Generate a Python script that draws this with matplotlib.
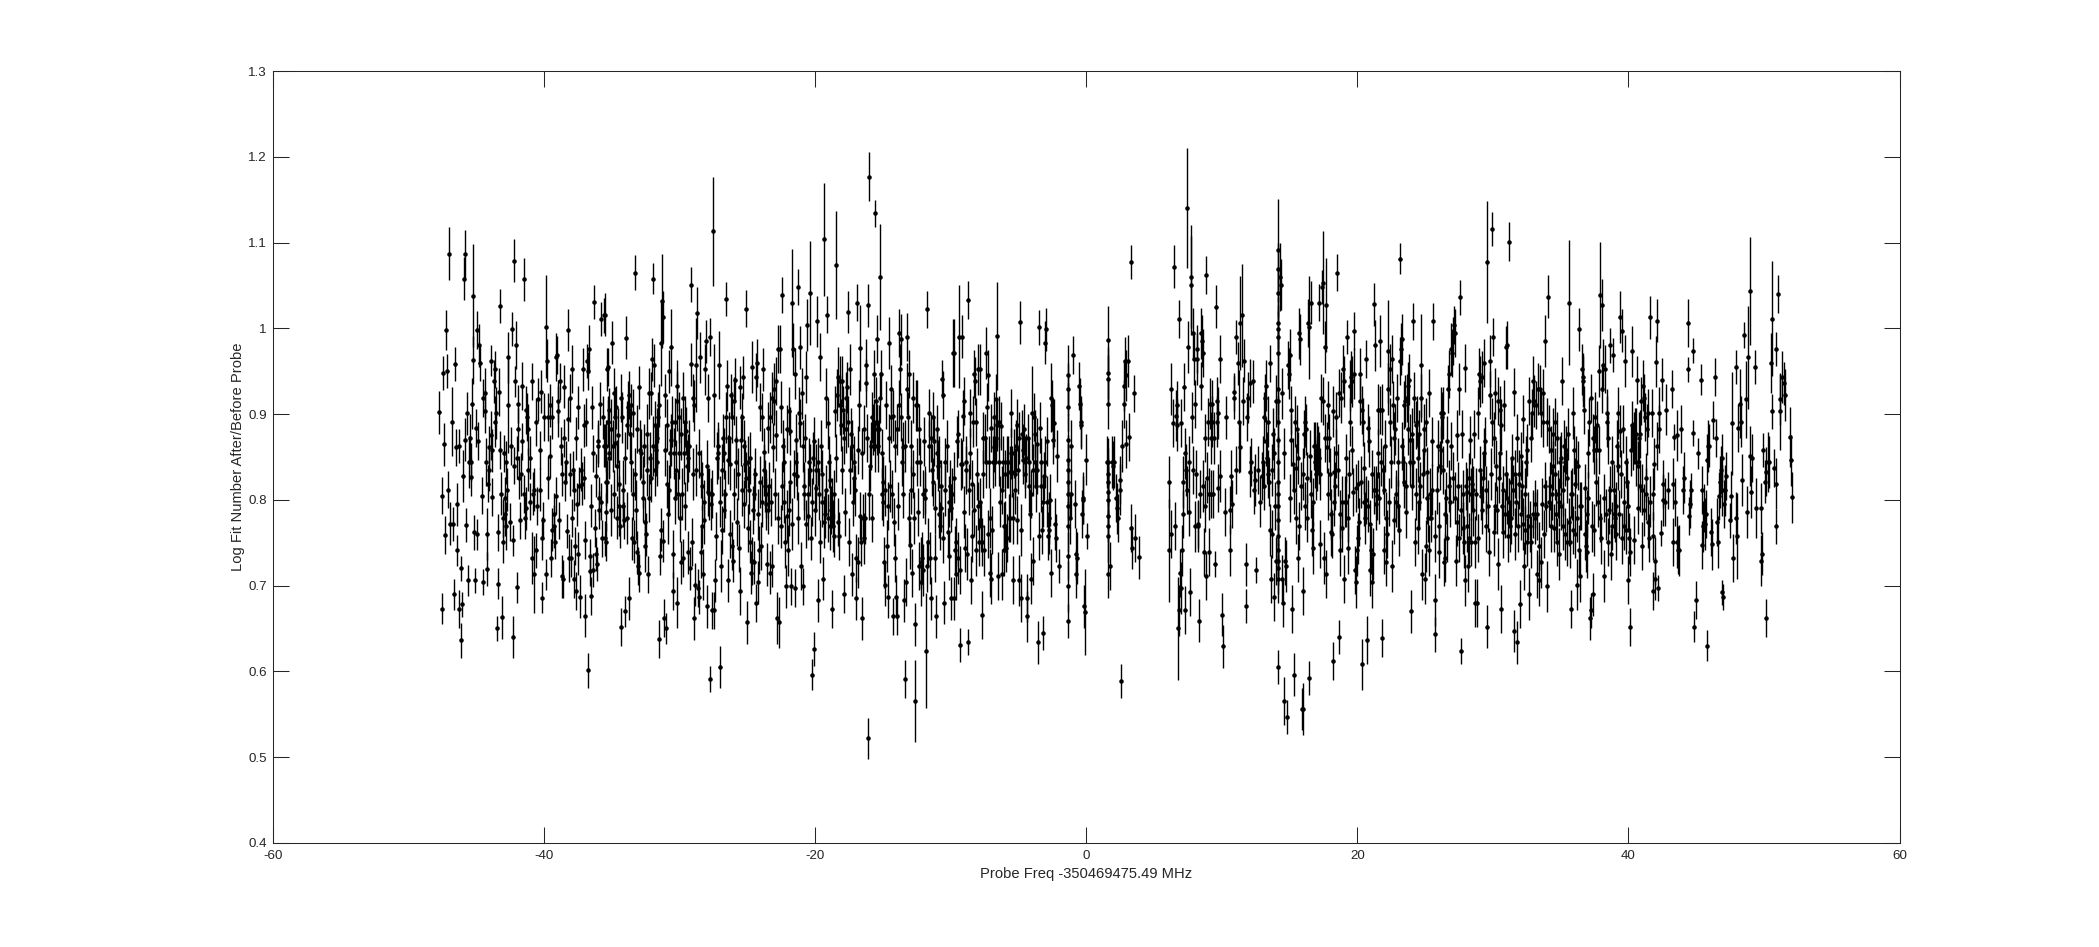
import matplotlib
matplotlib.use('Agg')
import matplotlib.pyplot as plt
import numpy as np
from matplotlib.ticker import FuncFormatter, MultipleLocator

# ---------------- data ----------------
# probe frequency offset (MHz), log fit number ratio, error (x1e-3)
freq_a = [-47.72,-47.52,-47.52,-47.47,-47.40,-47.32,-47.23,-47.13,-47.08,-47.03,
          -46.93,-46.79,-46.74,-46.64,-46.54,-46.49,-46.44,-46.39,-46.30,-46.25,
          -46.15,-46.10,-46.05,-46.00,-45.93,-45.85,-45.80,-45.76,-45.68,-45.58,
          -45.56,-45.46,-45.41,-45.36,-45.31,-45.27,-45.22,-45.17,-45.07,-45.02,
          -44.97,-44.92,-44.87,-44.82,-44.73,-44.58,-44.53,-44.48,-44.38,-44.34,
          -44.29,-44.24,-44.19,-44.14,-44.09,-44.04,-43.94,-43.89,-43.85,-43.80,
          -43.72,-43.65,-43.60,-43.55,-43.45,-43.40,-43.36,-43.31,-43.26,-43.21,
          -43.16,-43.11,-43.06,-43.01,-42.96,-42.91,-42.87,-42.82,-42.77,-42.72,
          -42.67,-42.62,-42.52,-42.42,-42.35,-42.30,-42.28,-42.23,-42.18,-42.13,
          -42.03,-41.98,-41.98,-41.93,-41.89,-41.84,-41.74,-41.69,-41.64,-41.59,
          -41.49,-41.44,-41.40,-41.35,-41.30,-41.25,-41.20,-41.15,-41.05,-41.00,
          -40.91,-40.86,-40.81,-40.76,-40.71,-40.61,-40.56,-40.51,-40.42,-40.32,
          -40.27,-40.22,-40.17,-40.12,-40.07,-39.97,-39.88,-39.83,-39.78,-39.73,
          -39.68,-39.58,-39.53,-39.48,-39.43,-39.39,-39.29,-39.24,-39.19,-39.14,
          -39.09,-39.04,-38.99,-38.94,-38.90,-38.80,-38.75,-38.70,-38.65,-38.60,
          -38.55,-38.50,-38.46,-38.36,-38.31,-38.26,-38.21,-38.16,-38.11,-38.06,
          -38.01,-37.97,-37.92,-37.87,-37.82,-37.77,-37.72,-37.67,-37.62,-37.57,
          -37.52,-37.48,-37.43,-37.38,-37.28,-37.23,-37.13,-37.08,-37.03,-36.99,
          -36.94,-36.89,-36.84,-36.79,-36.74,-36.69,-36.64,-36.59,-36.54,-36.50,
          -36.45,-36.40,-36.35,-36.30,-36.25,-36.20,-36.15,-36.10,-36.05,-36.01,
          -35.96,-35.91,-35.86,-35.81,-35.76,-35.71,-35.66,-35.61,-35.56,-35.52,
          -35.47,-35.42,-35.37,-35.32,-35.27,-35.22]
ratio_a = [.902,.673,.805,.948,.865,.759,.998,.950,.812,1.087,
           .772,.891,.772,.690,.958,.861,.795,.741,.863,.673,
           .636,.720,.678,.828,1.058,1.087,.870,.771,.901,.706,
           .844,.872,.827,.844,.912,1.038,.963,.762,.706,.884,
           .998,.760,.869,.980,.959,.805,.704,.919,.903,.924,
           .844,.719,.760,.819,.861,.835,.875,.962,.803,.858,
           .938,.952,.891,.901,.650,.762,.702,.926,.858,1.026,
           .807,.663,.779,.751,.854,.802,.783,.769,.844,.812,
           .966,.910,.774,.863,.999,.640,.753,.840,1.079,.938,
           .980,.698,.849,.912,.882,.826,.776,.830,.933,.868,
           1.057,.807,.779,.905,.790,.896,.882,.835,.798,.849,
           .732,.938,.807,.713,.812,.741,.891,.793,.917,.812,
           .858,.926,.755,.686,.776,.896,.713,1.002,.962,.826,
           .896,.910,.851,.732,.765,.896,.769,.783,.751,.966,
           .805,.969,.903,.915,.776,.938,.863,.711,.830,.708,
           .872,.932,.821,.844,.764,.894,.998,.732,.830,.919,
           .732,.952,.779,.835,.708,.812,.746,.872,.694,.795,
           .737,.908,.816,.687,.835,.819,.952,.887,.826,.753,
           .665,.891,.962,.601,.950,.976,.734,.717,.688,.793,
           .908,.718,.854,1.031,.767,.828,.737,.725,.863,.868,
           .788,.802,.912,.798,1.011,.755,.896,.863,1.015,.755,
           .863,.786,.952,.821,.891,.849]
err_a = [25,18,22,20,25,22,23,20,22,31,
         25,40,20,18,20,22,25,18,20,22,
         20,15,15,30,25,28,25,20,25,18,
         30,28,22,22,30,60,28,20,15,22,
         22,18,22,25,20,22,15,22,25,30,
         28,20,30,22,25,25,28,18,22,25,
         25,22,30,30,15,22,18,28,22,20,
         25,25,22,25,22,25,25,28,25,25,
         30,55,22,22,20,25,18,22,25,18,
         28,18,25,22,25,25,22,25,28,22,
         25,22,25,28,25,28,30,25,22,25,
         30,22,25,45,25,20,28,22,25,25,
         22,25,25,18,22,28,18,60,25,25,
         28,25,25,22,25,25,25,25,20,28,
         22,22,30,25,22,22,22,25,25,22,
         22,25,22,25,20,25,25,28,25,28,
         22,28,22,22,22,25,22,25,22,25,
         25,25,22,25,25,25,25,25,25,22,
         25,28,20,20,22,28,20,18,22,25,
         25,20,22,20,22,25,20,20,25,25,
         22,25,25,22,20,22,25,25,20,20,
         25,22,25,25,25,25]

freq_b = [-35.51,-35.46,-35.41,-35.41,-35.31,-35.27,-35.22,-35.17,-35.07,-35.02,
          -34.97,-34.92,-34.87,-34.82,-34.78,-34.73,-34.68,-34.63,-34.58,-34.53,
          -34.48,-34.43,-34.38,-34.33,-34.29,-34.24,-34.19,-34.14,-34.09,-34.04,
          -33.99,-33.94,-33.89,-33.84,-33.80,-33.75,-33.70,-33.65,-33.60,-33.55,
          -33.50,-33.45,-33.40,-33.35,-33.31,-33.26,-33.21,-33.16,-33.11,-33.06,
          -33.01,-32.96,-32.91,-32.82,-32.72,-32.67,-32.62,-32.57,-32.52,-32.47,
          -32.42,-32.37,-32.33,-32.28,-32.23,-32.18,-32.13,-32.08,-32.03,-31.98,
          -31.93,-31.88,-31.84,-31.79,-31.74,-31.69,-31.64,-31.59,-31.54,-31.49,
          -31.44,-31.39,-31.35,-31.30,-31.25,-31.20,-31.15,-31.10,-31.05,-31.00,
          -30.95,-30.90,-30.86,-30.81,-30.76,-30.71,-30.66,-30.61,-30.56,-30.51,
          -30.46,-30.41,-30.37,-30.32,-30.27,-30.22,-30.17,-30.17,-30.12,-30.07,
          -30.02,-29.97,-29.92,-29.88,-29.83,-29.78,-29.73,-29.68,-29.63,-29.58,
          -29.53,-29.43,-29.39,-29.34,-29.29,-29.24,-29.19,-29.14,-29.09,-29.04,
          -28.99,-28.94,-28.90,-28.85,-28.80,-28.75,-28.70,-28.65,-28.60,-28.55,
          -28.50,-28.45,-28.41,-28.36,-28.31,-28.26,-28.21,-28.16,-28.11,-28.06,
          -28.01,-27.96,-27.92,-27.87,-27.82,-27.77,-27.72,-27.67,-27.62,-27.57,
          -27.52,-27.47,-27.43,-27.38,-27.33,-27.23,-27.18,-27.13,-27.08,-27.03,
          -26.98,-26.94,-26.89,-26.84,-26.79,-26.74,-26.69,-26.64,-26.59,-26.54,
          -26.49,-26.45,-26.40,-26.35,-26.30,-26.25,-26.20,-26.15,-26.10,-26.05,
          -26.00,-25.96,-25.91,-25.86,-25.81,-25.76,-25.71,-25.61,-25.56,-25.51,
          -25.47,-25.42,-25.37,-25.32,-25.27,-25.22,-25.17,-25.12,-25.07,-25.02,
          -24.98,-24.93,-24.88,-24.83,-24.78,-24.73,-24.68,-24.63,-24.58,-24.53,
          -24.49,-24.44,-24.39,-24.34,-24.29,-24.24,-24.19,-24.14,-24.09,-24.04,
          -24.00,-23.95,-23.90,-23.85,-23.80,-23.75,-23.70,-23.65,-23.60,-23.55,
          -23.51,-23.46,-23.41,-23.36,-23.31,-23.26,-23.21,-23.16,-23.11,-23.06,
          -23.02,-22.97,-22.92,-22.87,-22.82,-22.77,-22.72]
ratio_b = [1.016,.863,.821,.751,.891,.955,.854,.905,.788,.882,
           .983,.863,.807,.924,.896,.866,.908,.840,.779,.875,
           .793,.819,.769,.652,.919,.896,.793,.811,.776,.670,
           .849,.989,.887,.779,.908,.685,.922,.877,.910,.844,
           .755,.807,.901,.751,1.065,.830,.788,.739,.882,.723,
           .931,.715,.858,.854,.821,.802,.863,.746,.774,.760,
           .835,.877,.713,.802,.924,.849,.924,.826,.964,1.058,
           .863,.957,.835,.887,.858,.872,.844,.896,.910,.638,
           .734,.983,.765,1.032,1.013,.752,.662,.858,.922,.650,
           .887,.819,.783,.811,.950,.854,.978,.870,.891,.694,
           .737,.854,.802,.891,.835,.933,.680,.915,.807,.896,
           .854,.779,.727,.877,.807,.732,.919,.854,.793,.891,
           .880,.840,.739,.849,.863,.720,1.051,.958,.751,.830,
           .919,.662,.910,.701,.957,.835,1.018,.697,.854,.687,
           .966,.830,.739,.769,.816,.713,.798,.776,.952,.985,
           .840,.676,.809,.919,.807,.591,.990,.795,.807,.671,
           1.113,.671,.922,.706,.758,.849,.863,.854,.957,.798,
           .605,.723,.765,.835,.872,.854,.788,.807,1.034,.896,
           .933,.847,.706,.872,.760,.842,.922,.746,.896,.729,
           .915,.807,.940,.870,.844,.774,.830,.744,.931,.694,
           .870,.896,.811,.943,.795,.863,.842,1.023,.826,.657,
           .767,.844,.811,.751,.849,.715,.729,.955,.788,.807,
           .727,.830,.943,.680,.959,.783,.704,.741,.821,.908,
           .746,.798,.896,.952,.835,.856,.816,.807,.795,.725,
           .788,.884,.816,.715,.896,.798,.723,.919,.861,.929,
           .915,.807,.938,.875,.662,.976,.779]
err_b = [25,30,28,22,30,22,28,25,30,35,
         25,30,28,30,35,28,25,30,25,32,
         35,28,25,22,28,30,25,35,22,18,
         30,25,28,30,30,25,28,30,25,35,
         25,30,28,25,20,30,35,25,28,22,
         25,22,35,28,30,28,25,30,28,25,
         30,35,22,28,30,30,25,28,25,18,
         35,25,30,28,30,35,28,30,25,22,
         22,50,25,55,30,25,22,30,25,18,
         30,28,35,30,25,28,45,30,30,22,
         28,30,30,28,35,30,30,35,28,30,
         30,28,25,30,30,22,30,35,28,30,
         28,30,25,28,30,25,20,25,28,30,
         28,25,30,25,55,30,30,22,28,20,
         30,28,30,25,28,30,25,28,30,25,
         30,25,28,28,30,15,22,30,28,22,
         64,22,60,25,28,30,28,30,40,30,
         25,30,28,30,28,30,25,28,20,30,
         30,28,25,30,28,30,25,28,30,25,
         28,30,25,28,30,28,30,28,25,28,
         30,28,30,25,28,30,28,22,30,25,
         28,30,28,25,30,25,28,30,28,30,
         25,30,28,22,28,30,25,28,30,28,
         28,30,28,25,30,28,30,28,30,25,
         28,30,28,25,30,28,25,30,28,30,
         28,30,28,30,30,28,30]

freq_c = [-22.65,-22.60,-22.55,-22.50,-22.45,-22.41,-22.36,-22.31,-22.26,-22.21,
          -22.16,-22.11,-22.06,-22.01,-21.96,-21.91,-21.87,-21.82,-21.77,-21.72,
          -21.67,-21.62,-21.57,-21.52,-21.47,-21.43,-21.38,-21.33,-21.28,-21.23,
          -21.18,-21.13,-21.08,-21.03,-20.98,-20.93,-20.89,-20.84,-20.79,-20.74,
          -20.69,-20.64,-20.59,-20.54,-20.49,-20.45,-20.40,-20.35,-20.30,-20.25,
          -20.20,-20.15,-20.10,-20.05,-20.00,-19.95,-19.91,-19.86,-19.81,-19.76,
          -19.71,-19.66,-19.61,-19.56,-19.51,-19.47,-19.42,-19.37,-19.32,-19.27,
          -19.22,-19.17,-19.12,-19.07,-19.02,-18.97,-18.93,-18.88,-18.83,-18.78,
          -18.73,-18.68,-18.63,-18.58,-18.53,-18.49,-18.44,-18.39,-18.34,-18.29,
          -18.24,-18.19,-18.14,-18.09,-18.04,-17.99,-17.95,-17.90,-17.85,-17.80,
          -17.75,-17.70,-17.65,-17.60,-17.55,-17.51,-17.46,-17.41,-17.36,-17.31,
          -17.26,-17.21,-17.16,-17.11,-17.06,-17.01,-16.97,-16.92,-16.87,-16.82,
          -16.77,-16.72,-16.67,-16.62,-16.57,-16.53,-16.48,-16.43,-16.38,-16.33,
          -16.28,-16.23,-16.18,-16.13,-16.08,-16.03,-15.99,-15.94,-15.89,-15.84,
          -15.79,-15.74,-15.69,-15.64,-15.59,-15.55,-15.50,-15.45,-15.40,-15.35,
          -15.30,-15.25,-15.20,-15.15,-15.10,-15.05,-15.01,-14.96,-14.91,-14.86,
          -14.81,-14.76,-14.71,-14.66,-14.61,-14.57,-14.52,-14.47,-14.42,-14.37,
          -14.32,-14.27,-14.22,-14.17,-14.12,-14.07,-14.03,-13.98,-13.93,-13.88,
          -13.83,-13.78,-13.73,-13.68,-13.63,-13.59,-13.54,-13.49,-13.44,-13.39,
          -13.34,-13.29,-13.24,-13.19,-13.14,-13.09,-13.05,-13.00,-12.95,-12.90,
          -12.85,-12.80,-12.75,-12.70,-12.65,-12.60,-12.56,-12.51,-12.46,-12.41,
          -12.36,-12.31,-12.26,-12.21,-12.16,-12.11,-12.07,-12.02,-11.97,-11.92,
          -11.87,-11.82,-11.77,-11.72,-11.67,-11.62,-11.58,-11.53,-11.48,-11.43,
          -11.38,-11.33,-11.28,-11.23,-11.18,-11.13,-11.09,-11.04,-10.99,-10.94,
          -10.89,-10.84,-10.79,-10.74,-10.69,-10.64,-10.60,-10.55,-10.50,-10.45,
          -10.40,-10.30,-10.20,-10.16,-10.11,-10.06,-10.01,-9.96,-9.91,-9.86]
ratio_c = [.657,.976,.769,.908,1.039,.816,.863,.798,.844,.751,
           .699,.781,.882,.741,.903,.788,.821,.880,.699,.772,
           1.030,.976,.830,.697,.947,.844,.870,.828,.779,1.048,
           .901,.889,.978,.723,.924,.699,.863,.816,.807,.872,
           .943,.772,1.004,.781,.807,.844,1.041,.835,.755,.798,
           .596,.849,.868,.626,.788,.814,.835,1.008,.683,.844,
           .807,.966,.751,.863,.830,.798,.708,1.104,.774,.783,
           .811,.919,1.016,.889,.779,.844,.769,.823,.788,.673,
           .798,.769,.807,.758,.903,1.074,.849,.922,.943,.774,
           .758,.938,.910,.887,.835,.938,.905,.872,.690,.786,
           .919,.882,.931,1.019,.891,.751,.952,.835,.877,.713,
           .863,.798,.844,.826,.811,.685,.732,1.030,.727,.858,
           .910,.781,.977,.751,.662,.854,.779,.755,.882,.779,
           .936,.957,.872,1.027,.522,.807,1.177,.840,.863,.896,
           .779,.882,.947,.887,1.134,.863,.915,.882,.987,.863,
           .882,1.060,.919,.947,.807,.854,.821,.798,.727,.701,
           .811,.910,.746,.793,.687,.983,.872,.816,.929,.896,
           .807,.898,.664,.774,.863,.732,.687,.882,.664,.793,
           .910,.994,.952,.896,.987,.844,.861,.807,.683,.591,
           .863,.704,.929,.990,.896,.947,.779,.747,.863,.811,
           .715,.919,.830,.779,.565,.655,.910,.844,.910,.786,
           .723,.882,.844,.727,.704,.732,.807,.718,.868,.802,
           .811,.624,.723,1.022,.751,.863,.901,.732,.872,.685,
           .835,.821,.896,.868,.790,.732,.664,.854,.882,.840,
           .783,.844,.769,.816,.790,.941,.756,.922,.680,.811,
           .844,.863,.762,.798,.734,.816,.790,.685,.807,.971]
err_c = [30,28,25,30,21,28,30,25,28,30,
         25,30,28,30,28,30,25,28,22,30,
         63,30,28,22,30,28,30,28,30,21,
         30,28,25,28,30,22,30,28,30,28,
         30,28,30,28,30,28,61,30,25,28,
         18,30,28,20,30,28,30,30,25,28,
         30,28,25,30,28,30,25,66,30,28,
         30,35,22,30,28,30,28,30,28,22,
         28,30,28,25,30,63,28,30,35,28,
         28,30,35,30,28,30,28,30,22,28,
         30,28,30,25,30,28,30,28,30,25,
         30,28,30,28,30,25,28,22,30,28,
         30,28,50,28,25,30,28,30,28,30,
         28,30,28,25,24,30,28,30,28,30,
         28,30,28,30,16,30,28,30,28,30,
         28,62,30,28,30,28,30,28,30,25,
         30,28,30,28,25,30,28,30,28,30,
         28,30,22,28,30,28,25,30,22,28,
         30,28,30,28,30,28,30,28,25,22,
         30,28,30,28,30,28,30,28,30,28,
         28,30,28,30,48,25,30,28,30,28,
         28,30,28,30,28,30,28,30,28,30,
         28,67,30,22,28,30,28,30,28,25,
         30,28,30,28,30,28,25,30,28,30,
         28,30,28,30,28,22,30,28,25,30,
         28,30,28,30,28,30,28,25,30,40]

freq_d = [-9.78,-9.78,-9.73,-9.68,-9.63,-9.58,-9.54,-9.49,-9.44,-9.39,
          -9.34,-9.29,-9.24,-9.19,-9.14,-9.09,-9.05,-9.00,-8.95,-8.90,
          -8.85,-8.80,-8.75,-8.70,-8.65,-8.60,-8.56,-8.51,-8.46,-8.41,
          -8.36,-8.31,-8.26,-8.21,-8.16,-8.11,-8.06,-8.02,-7.97,-7.92,
          -7.87,-7.82,-7.77,-7.72,-7.67,-7.62,-7.58,-7.53,-7.48,-7.43,
          -7.38,-7.33,-7.28,-7.23,-7.18,-7.13,-7.08,-7.04,-6.99,-6.94,
          -6.89,-6.84,-6.79,-6.74,-6.69,-6.64,-6.60,-6.55,-6.50,-6.45,
          -6.40,-6.35,-6.30,-6.25,-6.20,-6.15,-6.10,-6.06,-6.01,-5.96,
          -5.91,-5.86,-5.81,-5.76,-5.71,-5.66,-5.62,-5.57,-5.52,-5.47,
          -5.42,-5.37,-5.32,-5.27,-5.22,-5.17,-5.12,-5.08,-5.03,-4.98,
          -4.93,-4.88,-4.83,-4.78,-4.73,-4.68,-4.64,-4.59,-4.54,-4.49,
          -4.44,-4.39,-4.34,-4.29,-4.24,-4.19,-4.14,-4.10,-4.05,-4.00,
          -3.95,-3.90,-3.85,-3.80,-3.75,-3.70,-3.66,-3.61,-3.56,-3.51,
          -3.46,-3.41,-3.36,-3.31,-3.26,-3.21,-3.17,-3.12,-3.07,-3.02,
          -2.97,-2.92,-2.87,-2.82,-2.77,-2.72,-2.67,-2.63,-2.58,-2.53,
          -2.48,-2.43,-2.38,-2.28,-2.23,-2.19,-2.04,-1.33,-1.33,-1.33,
          -1.33,-1.33,-1.33,-1.33,-1.33,-1.33,-1.33,-1.33,-1.33,-1.33,
          -1.21,-1.16,-1.11,-0.96,-0.81,-0.76,-0.72,-0.67,-0.57,-0.47,
          -0.42,-0.37,-0.32,-0.27,-0.23,-0.13,-0.08,-0.03,0.07,1.64,
          1.64,1.64,1.64,1.64,1.64,1.64,1.64,1.64,1.64,1.64,
          1.64,1.64,1.54,1.78,1.88,1.98,2.08,2.18,2.27,2.37,
          2.47,2.52,2.57,2.67,2.76,2.81,2.86,2.91,2.96]
ratio_d = [.971,.826,.685,.741,.713,.751,.868,.877,.732,.990,
           .718,.631,.842,.990,.842,.898,.915,.786,.744,.844,
           .835,.737,1.033,.634,.812,.901,.854,.706,.758,.819,
           .891,.947,.788,.938,.741,.891,.830,.793,.952,.751,
           .952,.798,.769,.751,.666,.872,.830,.741,.872,.844,
           .971,.908,.945,.760,.844,.715,.779,.884,.708,.765,
           .844,.861,.896,.844,.917,.872,.887,.991,.711,.891,
           .844,.798,.886,.713,.812,.844,.769,.741,.830,.769,
           .744,.844,.755,.844,.779,.833,.779,.854,.901,.833,
           .706,.779,.854,.830,.812,.863,.776,.887,.835,.706,
           .872,1.007,.685,.765,.877,.858,.847,.882,.830,.844,
           .849,.685,.664,.872,.816,.844,.783,.807,.708,.901,
           .729,.835,.896,.844,.877,.816,.835,.865,.634,1.001,
           .758,.884,.844,.816,.765,.645,.798,.828,.844,.983,
           .999,.868,.798,.758,.779,.765,.800,.715,.919,.910,
           .870,.889,.889,.772,.755,.851,.723,.945,.929,.908,
           .870,.847,.835,.821,.807,.793,.769,.734,.699,.659,
           .779,.807,.863,.969,.795,.737,.713,.732,.933,.912,
           .887,.891,.783,.802,.800,.676,.669,.847,.758,.986,
           .948,.941,.912,.844,.830,.821,.809,.800,.781,.769,
           .758,.713,.844,.723,.844,.840,.844,.802,.790,.779,
           .812,.823,.589,.863,.912,.933,.962,.945,.865]
err_d = [40,30,25,28,30,28,30,28,30,60,
         28,20,30,25,28,30,28,30,28,30,
         28,30,22,15,30,28,30,28,30,28,
         30,28,30,28,30,28,30,28,30,28,
         30,28,30,28,28,30,28,30,28,30,
         30,28,30,28,30,28,35,28,30,28,
         30,28,30,28,30,28,30,63,28,30,
         28,30,28,30,28,30,28,30,28,30,
         28,30,28,30,28,30,28,30,28,30,
         28,30,28,30,28,30,28,30,28,30,
         30,25,28,30,28,30,28,30,28,30,
         28,28,30,28,30,28,30,28,30,55,
         28,30,28,30,28,30,28,30,25,20,
         28,30,28,30,28,20,30,28,30,25,
         25,28,30,28,30,28,30,28,40,30,
         28,30,28,30,28,30,20,35,30,28,
         30,28,30,28,30,28,30,28,30,20,
         30,28,30,22,28,30,28,30,28,30,
         28,30,28,30,28,25,50,30,15,40,
         30,28,30,28,30,28,30,28,30,28,
         30,28,30,28,30,28,30,28,30,28,
         30,28,20,30,28,30,28,30,28]

freq_e = [3.09,3.19,3.29,3.29,3.38,3.53,3.58,3.92,6.08,6.13,
          6.23,6.28,6.37,6.47,6.52,6.62,6.67,6.72,6.77,6.81,
          6.86,6.91,6.96,7.01,7.06,7.11,7.16,7.21,7.26,7.30,
          7.35,7.40,7.45,7.50,7.55,7.60,7.65,7.70,7.75,7.79,
          7.84,7.89,7.94,7.99,8.04,8.09,8.14,8.19,8.24,8.28,
          8.33,8.38,8.43,8.48,8.53,8.58,8.63,8.68,8.73,8.77,
          8.82,8.87,8.92,8.97,9.02,9.07,9.12,9.17,9.22,9.26,
          9.31,9.36,9.41,9.51,9.56,9.61,9.66,9.71,9.75,9.85,
          9.90,10.00,10.10,10.20,10.29,10.59,10.64,10.69,10.78,10.88,
          10.93,11.03,11.08,11.18,11.27,11.32,11.37,11.47,11.57,11.67,
          11.76,11.76,11.86,11.96,12.06,12.11,12.16,12.30,12.40,12.45,
          12.55,12.69,12.84,12.94,13.04,13.09,13.14,13.18,13.23,13.28,
          13.33,13.38,13.43,13.48,13.53,13.58,13.63,13.67,13.72,13.77,
          13.82,13.87,13.92,13.97,14.02,14.16,14.16,14.16,14.16,14.16,
          14.16,14.16,14.16,14.16,14.16,14.16,14.16,14.16,14.16,14.16,
          14.16,14.16,14.16,14.16,14.16,14.16,14.16,14.26,14.36,14.41,
          14.46,14.51,14.56,14.61,14.65,14.75,14.80,14.85,14.95,15.00,
          15.05,15.10,15.14,15.19,15.24,15.29,15.34,15.39,15.44,15.49,
          15.54,15.59,15.63,15.68,15.73,15.78,15.83,15.88]
ratio_e = [.962,.873,1.077,.767,.744,.924,.755,.733,.821,.741,
           .760,.929,.889,1.072,.769,.898,.910,.887,.650,1.011,
           .671,.715,.697,.889,.741,.783,.821,.931,.854,.671,
           .835,1.140,.812,.978,.786,.844,.692,1.060,1.050,.896,
           .994,.835,.964,.912,.769,.830,.964,.976,.769,.772,
           .659,.807,.994,.933,.985,.971,.816,.739,.793,.872,
           1.062,.711,.826,.891,.807,.739,.912,.807,.872,.912,
           .891,.807,.872,.725,1.025,.915,.891,.814,.901,.964,
           .828,.666,.629,.786,.896,.741,.788,.828,.795,.926,
           .919,.835,.990,.959,.891,.861,1.006,1.015,.915,.962,
           .725,.676,.896,.919,.936,.833,.844,.938,.812,.823,
           .718,.835,.798,.828,.844,.816,.896,.919,.933,.868,
           .849,.830,.891,.821,.765,.959,.708,.835,.760,.877,
           .687,.854,.793,.915,.729,1.091,1.069,1.041,1.006,.999,
           .990,.971,.929,.915,.891,.870,.844,.821,.807,.793,
           .776,.758,.741,.729,.720,.708,.605,1.060,1.051,.708,
           .924,.680,.565,.854,.729,.723,.547,.957,.947,.802,
           .969,.905,.870,.673,.842,.812,.596,.891,.837,.779,
           .882,.849,.732,.994,.769,.987,.816,.556]
err_e = [30,28,20,28,25,22,28,25,30,60,
         28,30,28,25,28,30,28,30,60,22,
         30,28,30,28,30,28,30,28,30,28,
         30,70,28,30,28,30,28,60,58,30,
         30,28,30,28,30,28,30,28,30,28,
         25,28,30,28,30,28,30,28,30,28,
         22,28,30,28,30,28,30,28,30,28,
         30,28,30,15,25,28,30,28,30,28,
         30,25,25,28,25,30,28,30,28,22,
         25,28,20,25,60,28,55,60,28,25,
         25,20,28,30,28,30,28,25,28,30,
         15,28,30,28,30,28,30,28,30,28,
         30,28,30,28,30,22,28,30,28,30,
         28,30,28,30,28,60,30,28,30,28,
         30,28,30,28,30,28,30,28,30,28,
         30,28,30,28,30,28,20,40,30,28,
         30,28,28,30,28,30,20,28,30,28,
         30,28,30,28,30,28,25,30,28,30,
         28,30,28,30,28,30,28,25]

freq_f = [15.96,15.96,16.01,16.06,16.11,16.16,16.21,16.25,16.30,16.35,
          16.40,16.45,16.50,16.55,16.60,16.65,16.70,16.74,16.79,16.84,
          16.89,16.94,16.99,17.04,17.09,17.14,17.19,17.23,17.28,17.33,
          17.38,17.43,17.48,17.53,17.58,17.63,17.68,17.72,17.77,17.82,
          17.87,17.92,17.97,18.02,18.07,18.12,18.17,18.21,18.26,18.31,
          18.36,18.41,18.46,18.51,18.56,18.61,18.66,18.70,18.75,18.80,
          18.85,18.90,18.95,19.00,19.05,19.10,19.15,19.19,19.24,19.29,
          19.34,19.39,19.44,19.49,19.54,19.59,19.64,19.68,19.73,19.78,
          19.83,19.88,19.93,19.98,20.03,20.08,20.13,20.17,20.22,20.27,
          20.32,20.37,20.42,20.47,20.52,20.57,20.62,20.66,20.71,20.76,
          20.81,20.86,20.91,20.96,21.01,21.06,21.11,21.15,21.20,21.25,
          21.30,21.35,21.40,21.45,21.50,21.55,21.60,21.64,21.69,21.74,
          21.79,21.84,21.89,21.94,21.99,22.04,22.09,22.13,22.18,22.23,
          22.28,22.33,22.38,22.43,22.48,22.53,22.58,22.62,22.67,22.72,
          22.77,22.82,22.87,22.92,22.97,23.02,23.07,23.11,23.16,23.21,
          23.26,23.31,23.36,23.41,23.46,23.51,23.56,23.60,23.65,23.70,
          23.75,23.80,23.85,23.90,23.95,24.00,24.05,24.09,24.14,24.19,
          24.24,24.29,24.34,24.39,24.44,24.49,24.54,24.58,24.63,24.68,
          24.73,24.78,24.83,24.88,24.93,24.98,25.03,25.07,25.12,25.17,
          25.22,25.27,25.32,25.37,25.42,25.47,25.52,25.61,25.71,25.76,
          25.76,25.86,25.96,26.01,26.05,26.10,26.15,26.20,26.25,26.30,
          26.35,26.40,26.45,26.50,26.54,26.59,26.64,26.69,26.74,26.79,
          26.84,26.89,26.94,26.99,27.03,27.08,27.13,27.18,27.23,27.28,
          27.33,27.38,27.43,27.48,27.52,27.57,27.62,27.67,27.72,27.77,
          27.82,27.87,27.92,27.97,28.01,28.06,28.11,28.16,28.21,28.26,
          28.31,28.36,28.41,28.46,28.50,28.55,28.60,28.65,28.70,28.75]
ratio_f = [.694,.556,.830,.877,.891,.793,.882,.779,.826,1.006,
           1.001,.592,.851,.807,1.030,.765,.798,.744,.863,.844,
           .863,.830,.863,.840,.858,1.030,.849,.748,.830,.919,
           1.048,.915,1.053,.732,.872,.978,.713,1.027,.861,.910,
           .807,.872,.830,.762,.783,.760,.612,.903,.798,.833,
           .816,.896,.854,1.065,.835,.924,.640,.741,.783,.919,
           .767,.798,.952,.938,.708,.798,.849,.798,.990,.779,
           .744,.830,.933,.891,.943,.858,.938,.809,.997,.947,
           .718,.704,.814,.741,.819,.755,.774,.947,.915,.821,
           .905,.608,.891,.837,.798,.779,.964,.800,.636,.793,
           .884,.868,.772,.718,.741,.704,.830,.737,.812,1.028,
           .980,.812,.795,.804,.905,.854,.802,.905,.985,.844,
           .639,.905,.835,.811,.741,.863,.727,.779,.760,.929,
           .973,.798,.952,.891,.844,.964,.723,.910,.872,.776,
           .882,.807,.798,.919,.793,.844,.765,.962,1.081,.976,
           .863,.987,.844,.821,.910,.915,.816,.786,.919,.882,
           .933,.940,.844,.870,.670,.816,.877,.844,1.008,.919,
           .751,.807,.887,.891,.849,.767,.877,.798,.816,.957,
           .919,.713,.830,.882,.858,.708,.891,.746,.833,.802,
           .779,.741,.924,.807,.779,.812,.868,1.008,.683,.643,
           .758,.812,.863,.769,.739,.840,.901,.858,.896,.835,
           .901,.727,.783,.732,.802,.755,.868,.929,.816,.947,
           .798,.863,.976,.971,.826,.985,1.004,.802,.994,.729,
           .774,.875,.816,.929,.755,1.036,.788,.624,.877,.767,
           .807,.751,.954,.706,.816,.769,.809,.723,.826,.755,
           .870,.807,.751,.819,.811,.788,.877,.751,.680,.807]
err_f = [28,30,30,28,30,28,30,28,30,28,
         60,20,30,28,25,30,28,30,28,30,
         28,30,28,30,28,22,30,28,30,28,
         20,28,60,30,28,30,28,55,30,28,
         30,28,30,28,30,28,22,30,28,30,
         28,30,28,22,30,28,20,30,28,30,
         28,30,28,30,28,30,28,30,20,28,
         30,28,30,28,30,28,30,28,22,30,
         28,30,28,30,28,30,28,30,28,30,
         28,30,28,30,28,30,22,28,28,30,
         28,30,28,30,28,30,28,30,28,25,
         30,28,30,28,30,28,30,28,30,28,
         22,30,28,30,28,30,28,30,28,30,
         60,28,30,28,30,28,30,28,30,28,
         30,28,30,28,30,28,30,28,18,30,
         28,30,28,30,28,30,28,30,28,30,
         28,30,28,30,25,28,30,28,22,30,
         28,30,28,30,28,30,28,30,28,60,
         28,30,28,30,28,30,28,30,28,30,
         28,30,28,30,28,30,28,22,30,20,
         30,28,30,28,30,28,30,28,30,28,
         30,28,30,28,30,28,30,28,30,28,
         30,28,30,28,30,28,22,30,28,30,
         28,30,28,30,28,20,30,15,28,30,
         28,30,28,30,28,30,28,30,28,30,
         28,30,28,30,28,30,28,30,28,30]

freq_g = [28.82,28.87,28.92,28.97,29.02,29.07,29.11,29.16,29.21,29.26,
          29.31,29.36,29.41,29.46,29.51,29.56,29.60,29.65,29.70,29.75,
          29.80,29.85,29.90,29.95,30.00,30.05,30.09,30.14,30.19,30.24,
          30.29,30.34,30.39,30.44,30.49,30.54,30.58,30.63,30.68,30.73,
          30.78,30.83,30.88,30.93,30.98,31.03,31.07,31.12,31.17,31.22,
          31.27,31.32,31.37,31.42,31.47,31.52,31.56,31.61,31.66,31.71,
          31.76,31.81,31.86,31.91,31.96,32.01,32.05,32.10,32.15,32.20,
          32.25,32.30,32.35,32.40,32.45,32.50,32.54,32.59,32.64,32.69,
          32.74,32.79,32.84,32.89,32.94,32.99,33.03,33.08,33.13,33.18,
          33.23,33.28,33.33,33.38,33.43,33.48,33.52,33.57,33.62,33.67,
          33.72,33.77,33.82,33.87,33.92,33.97,34.01,34.06,34.11,34.16,
          34.21,34.26,34.31,34.36,34.41,34.46,34.50,34.55,34.60,34.65,
          34.70,34.75,34.80,34.85,34.90,34.95,34.99,35.04,35.09,35.14,
          35.19,35.24,35.29,35.34,35.39,35.44,35.48,35.53,35.58,35.63,
          35.68,35.73,35.78,35.83,35.88,35.93,35.97,36.02,36.07,36.12,
          36.17,36.22,36.27,36.32,36.37,36.42,36.46,36.51,36.56,36.61,
          36.66,36.71,36.76,36.81,36.86,36.91,36.95,37.00,37.05,37.10,
          37.15,37.20,37.25,37.30,37.35,37.40,37.44,37.49,37.54,37.59,
          37.64,37.69,37.74,37.79,37.84,37.89,37.93,37.98,38.03,38.08,
          38.13,38.18,38.23,38.28,38.33,38.38,38.42,38.47,38.52,38.57,
          38.62,38.67,38.72,38.77,38.82,38.87,38.91,38.96,39.01,39.06,
          39.11,39.16,39.21,39.26,39.31,39.36,39.40,39.45,39.50,39.55,
          39.60,39.65,39.70,39.75,39.80,39.85,39.89,39.94,39.99,40.04,
          40.09,40.14,40.19,40.24,40.29,40.34,40.38,40.43,40.48,40.53,
          40.58,40.63,40.68,40.73,40.78,40.83,40.87,40.92,40.97,41.02,
          41.07,41.12,41.17,41.22,41.27,41.32,41.36,41.41,41.46,41.51,
          41.56,41.61]
ratio_g = [.680,.901,.755,.947,.835,.938,.804,.943,.788,.826,
           .959,.854,.868,.769,.812,.652,1.077,.793,.739,.962,
           .922,.830,.891,1.116,.990,.872,.762,.924,.793,.840,
           .788,.725,.915,.826,.905,.854,.673,.887,.793,.762,
           .811,.910,.783,.978,.830,.802,.980,.758,1.101,.798,
           .769,.821,.779,.849,.811,.647,.926,.760,.830,.798,
           .634,.872,.769,.830,.819,.678,.783,.851,.816,.894,
           .772,.723,.807,.765,.844,.751,.858,.781,.690,.915,
           .769,.872,.751,.901,.938,.783,.915,.795,.779,.910,
           .783,.713,.929,.746,.706,.929,.727,.901,.795,.924,
           .891,.760,.985,.816,.793,.891,.699,1.037,.882,.798,
           .816,.769,.858,.807,.840,.877,.767,.830,.891,.783,
           .751,.872,.807,.737,.798,.844,.793,.849,.938,.811,
           .769,.863,.844,.760,.858,.826,.751,.877,.774,1.030,
           .751,.807,.673,.807,.765,.901,.858,.819,.760,.844,
           .779,.701,.840,.999,.741,.793,.711,.793,.952,.943,
           .938,.905,.760,.814,.746,.783,.739,.854,.802,.891,
           .662,.919,.671,.769,.690,.872,.765,.858,.896,.821,
           .858,.887,.798,.858,.950,.779,1.039,.755,1.027,.929,
           .957,.802,.711,.952,.783,.901,.891,.751,.872,.788,
           .980,.812,.737,.769,.844,.969,.783,.812,.779,.760,
           .793,.863,.840,.901,.783,.880,1.013,.830,.997,.755,
           .882,.798,.769,.962,.765,.844,.821,.793,.706,.755,
           .739,.652,.858,.887,.973,.863,.872,.753,.877,.844,
           .877,.940,.790,.840,.872,.877,.816,.915,.812,.746,
           .933,.919,.788,.896,.807,.826,.882,.901,.774,.755,
           .798,1.013]
err_g = [28,30,28,30,28,30,28,30,28,30,
         28,30,28,30,28,25,71,30,28,30,
         28,30,28,20,22,30,28,30,28,30,
         28,30,28,30,28,30,28,30,28,30,
         28,30,28,25,28,30,28,30,23,28,
         30,28,30,28,30,25,28,30,28,30,
         25,28,30,28,30,28,30,28,30,28,
         30,28,30,28,30,28,30,28,30,28,
         30,28,30,28,30,28,30,28,30,28,
         30,28,30,28,30,28,30,28,30,28,
         30,28,30,28,30,28,30,25,28,30,
         28,30,28,30,28,30,28,30,28,30,
         28,30,28,30,28,30,28,30,28,30,
         28,30,28,30,28,30,28,30,28,73,
         30,28,22,30,28,30,28,30,28,30,
         28,30,28,25,30,28,30,28,30,28,
         30,28,30,28,30,28,30,28,30,28,
         25,28,20,30,25,28,30,28,30,28,
         30,28,30,28,30,28,62,30,30,28,
         30,28,30,28,30,28,30,28,30,28,
         20,28,30,28,30,20,28,30,28,30,
         28,30,28,30,28,30,30,28,25,30,
         28,30,28,30,28,30,28,30,28,30,
         28,22,30,28,30,28,30,28,30,28,
         30,28,30,28,30,28,30,28,30,28,
         30,28,30,28,30,28,30,28,30,28,
         30,25]

freq_h = [41.74,41.79,41.79,41.84,41.89,41.94,41.98,42.03,42.08,42.13,
          42.18,42.23,42.28,42.38,42.47,42.52,42.57,42.67,42.77,42.92,
          43.21,43.26,43.31,43.36,43.45,43.55,43.60,43.65,43.75,43.90,
          43.99,44.09,44.39,44.39,44.43,44.53,44.63,44.73,44.75,44.83,
          44.97,45.12,45.32,45.41,45.46,45.51,45.56,45.61,45.71,45.76,
          45.81,45.86,45.95,46.10,46.15,46.20,46.35,46.49,46.54,46.59,
          46.69,46.74,46.84,46.88,46.93,46.93,46.98,47.03,47.13,47.18,
          47.52,47.57,47.62,47.72,47.91,47.96,48.01,48.11,48.26,48.31,
          48.40,48.55,48.70,48.75,48.80,48.94,48.99,49.04,49.09,49.33,
          49.38,49.78,49.78,49.82,49.92,50.07,50.12,50.17,50.27,50.36,
          50.51,50.56,50.61,50.76,50.85,50.85,50.90,51.05,51.15,51.20,
          51.29,51.44,51.54,51.93,51.98,52.03]
ratio_h = [.901,.807,.758,.694,.842,.729,.708,.961,.863,1.009,
           .697,.901,.882,.761,.940,.819,.800,.798,.905,.811,
           .929,.751,.819,.873,.798,.751,.875,.741,.741,.882,
           .811,.826,1.006,.952,.781,.795,.811,.878,.974,.652,
           .683,.854,.940,.811,.747,.769,.790,.772,.783,.847,
           .630,.863,.863,.762,.748,.893,.943,.872,.774,.751,
           .804,.821,.835,.811,.849,.692,.687,.795,.811,.828,
           .776,.804,.889,.732,.955,.779,.758,.884,.912,.891,
           .823,.992,.917,.786,.966,1.044,.851,.809,.849,.955,
           .790,.729,.790,.737,.858,.821,.833,.662,.844,.844,
           .959,1.011,.903,.837,.819,.769,.976,1.040,.917,.903,
           .943,.936,.922,.873,.846,.803]
err_h = [28,30,28,22,30,28,25,30,28,25,
         15,30,28,15,25,28,30,28,30,22,
         22,28,30,15,28,30,30,28,30,28,
         28,30,28,15,22,28,20,15,15,18,
         22,18,18,28,28,30,28,30,28,30,
         18,30,25,28,30,22,22,22,28,30,
         28,30,28,30,28,15,15,28,30,28,
         20,30,60,28,20,30,50,28,40,30,
         30,15,45,30,60,63,35,30,28,20,
         35,30,30,25,20,25,28,22,35,30,
         35,67,20,22,30,20,20,22,30,45,
         30,25,30,35,30,30]

x_ticks = [-60, -40, -20, 0, 20, 40, 60]
y_ticks = [0.4, 0.5, 0.6, 0.7, 0.8, 0.9, 1.0, 1.1, 1.2, 1.3]
x_label = 'Probe Freq -350469475.49 MHz'
y_label = 'Log Fit Number After/Before Probe'

# ---------------- assemble ----------------
segments = [(freq_a, ratio_a, err_a), (freq_b, ratio_b, err_b),
            (freq_c, ratio_c, err_c), (freq_d, ratio_d, err_d),
            (freq_e, ratio_e, err_e), (freq_f, ratio_f, err_f),
            (freq_g, ratio_g, err_g), (freq_h, ratio_h, err_h)]
xs, ys, es = [], [], []
for fx, fy, fe in segments:
    n = min(len(fx), len(fy), len(fe))
    xs.extend(fx[:n]); ys.extend(fy[:n]); es.extend(fe[:n])
freq = np.array(xs)
ratio = np.array(ys)
err = np.array(es) / 1000.0

# ---------------- plot ----------------
plt.rcParams['font.family'] = ['Liberation Sans', 'DejaVu Sans']
axis_col = '#262626'

fig = plt.figure(figsize=(20.99, 9.47), dpi=100)
ax = fig.add_axes([0.13, 0.11, 0.775, 0.815])

ax.errorbar(freq, ratio, yerr=err, fmt='.', color='black', ecolor='black',
            ms=4.5, elinewidth=1.0, capsize=0)

ax.set_xlim(-60, 60)
ax.set_ylim(0.4, 1.3)
ax.set_xticks(x_ticks)
ax.set_yticks(y_ticks)
fmt = FuncFormatter(lambda v, p: '%g' % round(v, 3))
ax.xaxis.set_major_formatter(fmt)
ax.yaxis.set_major_formatter(fmt)

ax.tick_params(axis='both', which='major', direction='in', length=11.5,
               width=0.75, color=axis_col, labelcolor=axis_col,
               labelsize=9.6, top=True, right=True)
ax.tick_params(axis='x', pad=5.5)
ax.tick_params(axis='y', pad=4.3)
for s in ax.spines.values():
    s.set_linewidth(0.75)
    s.set_color(axis_col)

ax.set_xlabel(x_label, fontsize=10.6, color=axis_col, labelpad=3)
ax.set_ylabel(y_label, fontsize=10.6, color=axis_col, labelpad=2)

fig.savefig('out.png', dpi=100)
